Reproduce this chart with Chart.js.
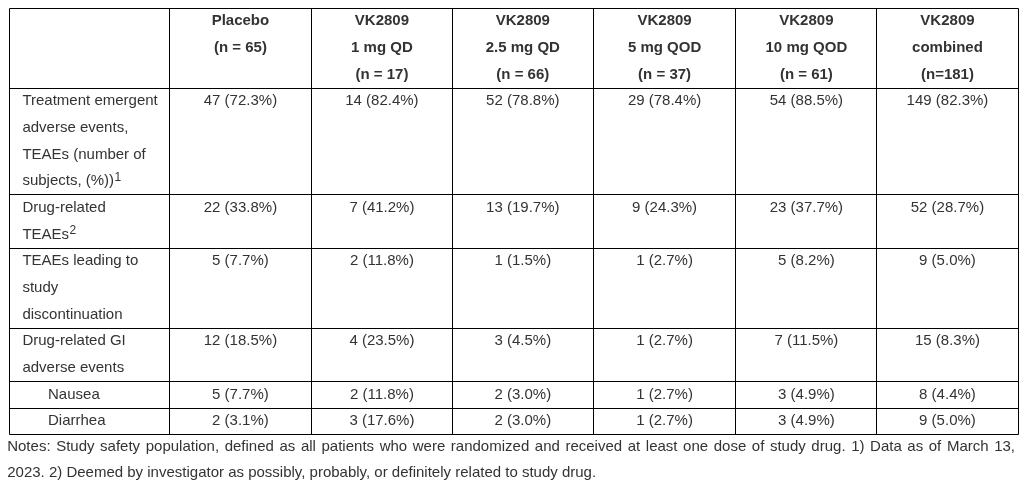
<!DOCTYPE html>
<html>
<head>
<meta charset="utf-8">
<script src="https://cdn.jsdelivr.net/npm/chart.js@4.4.0/dist/chart.umd.min.js"></script>
<style>
  html, body { margin: 0; padding: 0; background: #fff; }
  #wrap { width: 1025px; height: 495px; position: relative; }
</style>
</head>
<body>
<div id="wrap"><canvas id="safetyTable"></canvas></div>
<script>
// column headers (one entry per treatment group, split into lines)
const groups = [
  ['Placebo', '(n = 65)'],
  ['VK2809', '1 mg QD', '(n = 17)'],
  ['VK2809', '2.5 mg QD', '(n = 66)'],
  ['VK2809', '5 mg QOD', '(n = 37)'],
  ['VK2809', '10 mg QOD', '(n = 61)'],
  ['VK2809', 'combined', '(n=181)']
];

// row labels, footnote marks and indent flags
const rowLabels = [
  ['Treatment emergent', 'adverse events,', 'TEAEs (number of', 'subjects, (%))'],
  ['Drug-related', 'TEAEs'],
  ['TEAEs leading to', 'study', 'discontinuation'],
  ['Drug-related GI', 'adverse events'],
  ['Nausea'],
  ['Diarrhea']
];
const rowMarks = ['1', '2', '', '', '', ''];
const rowIndent = [false, false, false, false, true, true];

// subject counts and percentages per row, in group order
const teaeN = [47, 14, 52, 29, 54, 149];
const teaePct = [72.3, 82.4, 78.8, 78.4, 88.5, 82.3];
const drugN = [22, 7, 13, 9, 23, 52];
const drugPct = [33.8, 41.2, 19.7, 24.3, 37.7, 28.7];
const discN = [5, 2, 1, 1, 5, 9];
const discPct = [7.7, 11.8, 1.5, 2.7, 8.2, 5.0];
const giN = [12, 4, 3, 1, 7, 15];
const giPct = [18.5, 23.5, 4.5, 2.7, 11.5, 8.3];
const nauseaN = [5, 2, 2, 1, 3, 8];
const nauseaPct = [7.7, 11.8, 3.0, 2.7, 4.9, 4.4];
const diarrheaN = [2, 3, 2, 1, 3, 9];
const diarrheaPct = [3.1, 17.6, 3.0, 2.7, 4.9, 5.0];

const notes = [
  'Notes: Study safety population, defined as all patients who were randomized and received at least one dose of study drug. 1) Data as of March 13,',
  '2023. 2) Deemed by investigator as possibly, probably, or definitely related to study drug.'
];

// layout
const colWidths = [160.2, 142.2, 140.6, 141, 142.4, 141, 141];
const headerLines = 3;
const rowLines = [4, 2, 3, 2, 1, 1];
const textColor = '#333';
const font = '"Liberation Sans", Arial, Helvetica, sans-serif';

const counts = [teaeN, drugN, discN, giN, nauseaN, diarrheaN];
const pcts = [teaePct, drugPct, discPct, giPct, nauseaPct, diarrheaPct];

const colEdges = [0];
colWidths.forEach(w => colEdges.push(colEdges[colEdges.length - 1] + w));
const rowEdges = [0, headerLines];
rowLines.forEach(n => rowEdges.push(rowEdges[rowEdges.length - 1] + n));
const colCenter = i => (colEdges[i] + colEdges[i + 1]) / 2;
const tableRight = colEdges[colEdges.length - 1];

// one point per cell, placed at the centre of its first text line
let cells = [];
groups.forEach((g, c) => {
  cells.push({ x: colCenter(c + 1), y: 0.5, lines: g, bold: true, align: 'center' });
});
rowLabels.forEach((lab, r) => {
  cells.push({
    x: rowIndent[r] ? 39 : 13.4, y: rowEdges[r + 1] + 0.5,
    lines: lab, mark: rowMarks[r], align: 'left'
  });
  counts[r].forEach((n, c) => {
    cells.push({
      x: colCenter(c + 1), y: rowEdges[r + 1] + 0.5,
      lines: [n + ' (' + pcts[r][c].toFixed(1) + '%)'], align: 'center'
    });
  });
});
// notes paragraph is justified: every line but the last fills the width
notes.forEach((t, i) => {
  cells.push({
    x: -1.8, y: 16.45 + i, lines: [t], align: 'left',
    justifyTo: i < notes.length - 1 ? tableRight - 3 : null
  });
});

const tablePlugin = {
  id: 'tablePlugin',
  afterDatasetsDraw(chart) {
    const ctx = chart.ctx;
    const xs = chart.scales.x, ys = chart.scales.y;
    const px = v => Math.floor(xs.getPixelForValue(v)) + 0.5;
    const py = v => Math.floor(ys.getPixelForValue(v)) + 0.5;
    const lineH = ys.getPixelForValue(1) - ys.getPixelForValue(0);

    ctx.save();
    ctx.strokeStyle = '#000';
    ctx.lineWidth = 1;
    ctx.beginPath();
    const x0 = px(colEdges[0]), x1 = px(tableRight);
    const y0 = py(rowEdges[0]), y1 = py(rowEdges[rowEdges.length - 1]);
    rowEdges.forEach(r => { ctx.moveTo(x0, py(r)); ctx.lineTo(x1, py(r)); });
    colEdges.forEach(c => { ctx.moveTo(px(c), y0); ctx.lineTo(px(c), y1); });
    ctx.stroke();

    ctx.fillStyle = textColor;
    ctx.textBaseline = 'middle';
    const meta = chart.getDatasetMeta(0);
    meta.data.forEach((pt, i) => {
      const cell = cells[i];
      const f = (cell.bold ? 'bold ' : '') + '15px ' + font;
      ctx.font = f;
      ctx.textAlign = cell.align;
      cell.lines.forEach((line, k) => {
        const y = pt.y + k * lineH;
        if (cell.justifyTo != null) {
          const words = line.split(' ');
          const wordsW = words.reduce((s, w) => s + ctx.measureText(w).width, 0);
          const gap = (xs.getPixelForValue(cell.justifyTo) - pt.x - wordsW) / (words.length - 1);
          let x = pt.x;
          words.forEach(w => { ctx.fillText(w, x, y); x += ctx.measureText(w).width + gap; });
          return;
        }
        ctx.fillText(line, pt.x, y);
        if (cell.mark && k === cell.lines.length - 1) {
          const w = ctx.measureText(line).width;
          ctx.font = '12px ' + font;
          ctx.textAlign = 'left';
          ctx.fillText(cell.mark, pt.x + w + 0.5, y - 3.5);
          ctx.font = f;
          ctx.textAlign = cell.align;
        }
      });
    });
    ctx.restore();
  }
};

new Chart(document.getElementById('safetyTable'), {
  type: 'scatter',
  data: {
    datasets: [{
      data: cells.map(c => ({ x: c.x, y: c.y })),
      pointRadius: 0,
      pointHoverRadius: 0
    }]
  },
  options: {
    maintainAspectRatio: false,
    responsive: true,
    animation: false,
    events: [],
    layout: { padding: { left: 9, right: 7, top: 8, bottom: 7 } },
    scales: {
      x: { type: 'linear', display: false, min: 0, max: tableRight },
      y: { type: 'linear', display: false, reverse: true, min: 0, max: 18 }
    },
    plugins: {
      legend: { display: false },
      tooltip: { enabled: false }
    }
  },
  plugins: [tablePlugin]
});
</script>
</body>
</html>
